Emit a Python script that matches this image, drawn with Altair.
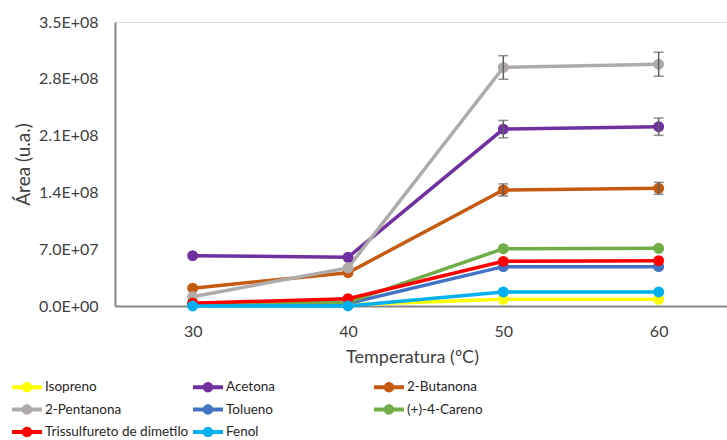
import altair as alt
import pandas as pd

# Temperatures (ºC) on the x axis
temperaturas = [30, 40, 50, 60]

# Compound names, in legend order
compostos = [
    "Isopreno", "Acetona", "2-Butanona", "2-Pentanona",
    "Tolueno", "(+)-4-Careno", "Trissulfureto de dimetilo", "Fenol",
]
cores = [
    "#FFFF00", "#7030A0", "#C55A11", "#AFABAB",
    "#4472C4", "#70AD47", "#FF0000", "#00B0F0",
]

# Mean peak area (u.a.) per compound at each temperature
isopreno = [1.0e6, 1.5e6, 8.3e6, 8.3e6]
acetona = [6.2e7, 6.0e7, 2.18e8, 2.21e8]
butanona = [2.2e7, 4.1e7, 1.43e8, 1.45e8]
pentanona = [1.15e7, 4.7e7, 2.94e8, 2.98e8]
tolueno = [2.0e6, 3.0e6, 4.85e7, 4.85e7]
careno = [3.5e6, 4.5e6, 7.06e7, 7.11e7]
trissulfureto = [3.5e6, 9.0e6, 5.5e7, 5.58e7]
fenol = [0.0, 0.0, 1.73e7, 1.73e7]

# Standard deviation (error bars)
err_isopreno = [0, 0, 0, 0]
err_acetona = [0, 0, 1.07e7, 1.07e7]
err_butanona = [0, 0, 7.5e6, 7.4e6]
err_pentanona = [0, 0, 1.45e7, 1.48e7]
err_tolueno = [0, 0, 0, 0]
err_careno = [0, 0, 0, 0]
err_trissulfureto = [0, 0, 0, 0]
err_fenol = [0, 0, 0, 0]

series = [isopreno, acetona, butanona, pentanona, tolueno, careno, trissulfureto, fenol]
erros = [err_isopreno, err_acetona, err_butanona, err_pentanona,
         err_tolueno, err_careno, err_trissulfureto, err_fenol]

rows = []
for i, (nome, vals, errs) in enumerate(zip(compostos, series, erros)):
    for t, v, e in zip(temperaturas, vals, errs):
        rows.append({"Temperatura": t, "Área": v, "Composto": nome,
                     "ordem": i, "lo": v - e, "hi": v + e, "err": e})
df = pd.DataFrame(rows)

FONT = "Lato"
AXIS_GRAY = "#868686"
TEXT = "#404040"

# Line + circle symbol used in the legend (30 px wide on a 20 px symbol box)
LEGEND_SYMBOL = ("M-1.5,-0.19 L1.5,-0.19 L1.5,0.19 L-1.5,0.19 Z "
                 "M0.52,0 A0.52,0.52 0 1,1 -0.52,0 A0.52,0.52 0 1,1 0.52,0 Z")

x_enc = alt.X(
    "Temperatura:Q",
    scale=alt.Scale(domain=[25, 64.4], nice=False, zero=False),
    axis=alt.Axis(
        values=temperaturas, title="Temperatura (ºC)", grid=False, ticks=False,
        domainColor=AXIS_GRAY, domainWidth=2, labelPadding=17,
        labelFontSize=16, labelColor=TEXT, titleFontSize=18,
        titleFontWeight="normal", titleColor=TEXT, titlePadding=9,
        titleX=297, labelFont=FONT, titleFont=FONT,
    ),
)
y_enc = alt.Y(
    "Área:Q",
    scale=alt.Scale(domain=[0, 3.5e8], nice=False),
    axis=alt.Axis(
        values=[0, 7e7, 1.4e8, 2.1e8, 2.8e8, 3.5e8],
        labelExpr=("datum.value == 0 ? '0.0E+00' : (datum.value < 1e8 ? "
                   "format(datum.value / 1e7, '.1f') + 'E+07' : "
                   "format(datum.value / 1e8, '.1f') + 'E+08')"),
        title="Área (u.a.)", grid=False, ticks=False,
        domainColor=AXIS_GRAY, domainWidth=2, labelPadding=17,
        labelFontSize=16, labelColor=TEXT, titleFontSize=19,
        titleFontWeight="normal", titleColor=TEXT, titlePadding=5,
        labelFont=FONT, titleFont=FONT,
    ),
)
color_enc = alt.Color(
    "Composto:N",
    scale=alt.Scale(domain=compostos, range=cores),
    sort=compostos,
    legend=alt.Legend(
        title=None, orient="none", legendX=-98, legendY=355,
        columns=3, direction="horizontal", gridAlign="all",
        symbolType=LEGEND_SYMBOL, symbolSize=400, symbolStrokeWidth=0,
        symbolOpacity=1, labelFontSize=13.5, labelFont=FONT,
        labelColor="#262626", labelOffset=8, columnPadding=4,
        rowPadding=5.5, labelLimit=220,
    ),
)

base = alt.Chart(df)

lines = base.mark_line(strokeWidth=3.5).encode(
    x=x_enc, y=y_enc, color=color_enc, order="Temperatura:Q",
    detail="Composto:N",
)
points = base.mark_point(filled=True, size=120, opacity=1).encode(
    x="Temperatura:Q", y="Área:Q", color=alt.Color("Composto:N"),
)
err_df = base.transform_filter("datum.err > 0")
bars = err_df.mark_rule(color="#5f5f5f", strokeWidth=1.5).encode(
    x="Temperatura:Q", y="lo:Q", y2="hi:Q",
)
caps_lo = err_df.mark_tick(color="#5f5f5f", thickness=1.5, size=10,
                           orient="horizontal").encode(x="Temperatura:Q", y="lo:Q")
caps_hi = err_df.mark_tick(color="#5f5f5f", thickness=1.5, size=10,
                           orient="horizontal").encode(x="Temperatura:Q", y="hi:Q")

chart = (
    alt.layer(lines, points, bars, caps_lo, caps_hi)
    .properties(
        width=612, height=284,
        autosize=alt.AutoSizeParams(type="none"),
        padding={"left": 115, "top": 22, "right": 0, "bottom": 134},
    )
    .configure_view(stroke=None)
    .configure(background="white")
)

chart.save("out.html", embed_options={"renderer": "svg", "actions": False})
